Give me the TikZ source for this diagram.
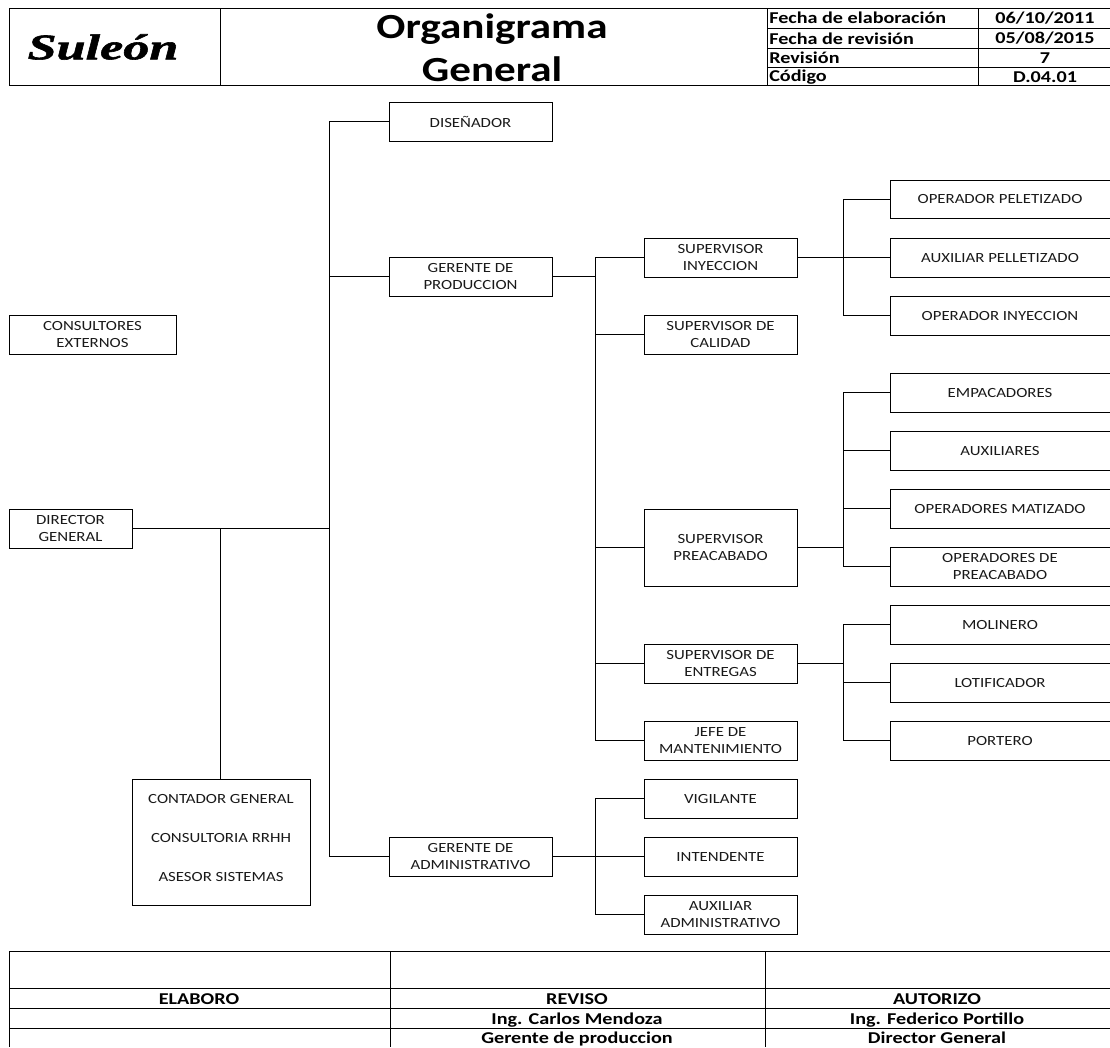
\documentclass[tikz,border=0pt]{standalone}
\usepackage{fontspec}
\setmainfont{Carlito}
\newfontfamily\boxfont[FakeStretch=1.2]{Carlito}
\newfontfamily\headfont[FakeStretch=1.22]{Carlito}
\newfontfamily\logofont[UprightFont=* Bold Italic,FakeBold=1.6,FakeStretch=1.45]{Liberation Serif}
\newcommand{\bx}[6]{%
  \pgfmathsetmacro\bw{(#4-#2)*0.75}\pgfmathsetmacro\bh{(#5-#3)*0.75}%
  \node[orgbox,minimum width=\bw pt,minimum height=\bh pt] (#1) at ({(#2+#4)/2},{(#3+#5)/2}) {#6};}
\newcommand{\obx}[4]{%
  \pgfmathsetmacro\bh{(#3-#2)*0.75}%
  \node[orgbox,draw=none,minimum width=165pt,minimum height=\bh pt] (#1) at (1000,{(#2+#3)/2}) {#4};
  \draw[conn] (#1.north east) -- (#1.north west) -- (#1.south west) -- (#1.south east);}
\newcommand{\lnk}[3]{\draw[conn] (#2.west) -| (#3 |- #1.east) -- (#1.east);}
\tikzset{
  conn/.style={line width=0.75pt,black},
  orgbox/.style={draw,line width=0.75pt,inner sep=0pt,outer sep=0pt,align=center,
    font=\boxfont\fontsize{10.5pt}{12.75pt}\selectfont,text=black!90},
  headl/.style={inner sep=0pt,anchor=west,font=\headfont\bfseries\fontsize{12.4pt}{13pt}\selectfont},
  headc/.style={inner sep=0pt,font=\headfont\bfseries\fontsize{12.4pt}{13pt}\selectfont},
  titletext/.style={inner sep=0pt,font=\headfont\bfseries\fontsize{26.5pt}{30pt}\selectfont},
  foot/.style={inner sep=0pt,anchor=base,font=\headfont\bfseries\fontsize{12.4pt}{13pt}\selectfont},
  plain/.style={inner sep=0pt,font=\boxfont\fontsize{10.5pt}{12pt}\selectfont,text=black!90},
}
\begin{document}
\begin{tikzpicture}[x=0.75pt,y=-0.75pt]
\useasboundingbox (0,0) rectangle (1110,1047);
% header
\draw[conn] (1110,8) -- (9,8) -- (9,85) -- (1110,85);
\draw[conn] (220,8) -- (220,85);
\draw[conn] (767,8) -- (767,85);
\draw[conn] (978,8) -- (978,85);
\draw[conn] (767,28) -- (1110,28);
\draw[conn] (767,48) -- (1110,48);
\draw[conn] (767,67) -- (1110,67);
\node[inner sep=0pt,font=\logofont\fontsize{27pt}{30pt}\selectfont] (logo) at (103,47) {Suleón};
\node[titletext] (t1) at (492,29) {Organigrama};
\node[titletext] (t2) at (492,69) {General};
\node[headl] (h1) at (769,18) {Fecha de elaboración};
\node[headl] (h2) at (769,39) {Fecha de revisión};
\node[headl] (h3) at (769,58) {Revisión};
\node[headl] (h4) at (769,77) {Código};
\node[headc] (v1) at (1045,18) {06/10/2011};
\node[headc] (v2) at (1045,38) {05/08/2015};
\node[headc] (v3) at (1045,58) {7};
\node[headc] (v4) at (1045,77) {D.04.01};
% left
\bx{cons}{9}{315}{176}{354}{CONSULTORES\\EXTERNOS}
\bx{dir}{9}{509}{132}{548}{DIRECTOR\\GENERAL}
\bx{grp}{132}{779}{310}{905}{}
\node[plain] (g1) at (221,799) {CONTADOR GENERAL};
\node[plain] (g2) at (221,838) {CONSULTORIA RRHH};
\node[plain] (g3) at (221,877) {ASESOR SISTEMAS};
% second level
\bx{dis}{389}{102}{552}{141}{DISEÑADOR}
\bx{gp}{389}{257}{552}{296}{GERENTE DE\\PRODUCCION}
\bx{ga}{389}{837}{552}{876}{GERENTE DE\\ADMINISTRATIVO}
% third level
\bx{si}{644}{238}{797}{277}{SUPERVISOR\\INYECCION}
\bx{sc}{644}{315}{797}{354}{SUPERVISOR DE\\CALIDAD}
\bx{sp}{644}{509}{797}{586}{SUPERVISOR\\PREACABADO}
\bx{se}{644}{644}{797}{683}{SUPERVISOR DE\\ENTREGAS}
\bx{jm}{644}{721}{797}{760}{JEFE DE\\MANTENIMIENTO}
\bx{vi}{644}{779}{797}{818}{VIGILANTE}
\bx{in}{644}{837}{797}{876}{INTENDENTE}
\bx{aa}{644}{895}{797}{934}{AUXILIAR\\ADMINISTRATIVO}
% fourth level
\obx{a1}{180}{218}{OPERADOR PELETIZADO}
\obx{a2}{238}{277}{AUXILIAR PELLETIZADO}
\obx{a3}{296}{335}{OPERADOR INYECCION}
\obx{b1}{373}{412}{EMPACADORES}
\obx{b2}{431}{470}{AUXILIARES}
\obx{b3}{489}{528}{OPERADORES MATIZADO}
\obx{b4}{547}{586}{OPERADORES DE\\PREACABADO}
\obx{c1}{605}{644}{MOLINERO}
\obx{c2}{663}{702}{LOTIFICADOR}
\obx{c3}{721}{760}{PORTERO}
% buses
\coordinate (bus1) at (329,0);
\coordinate (bus2) at (595,0);
\coordinate (bus3) at (843,0);
\coordinate (busg) at (220,0);
\lnk{dir}{dis}{bus1}
\lnk{dir}{gp}{bus1}
\lnk{dir}{ga}{bus1}
\draw[conn] (grp.north -| busg) -- (busg |- dir.east);
\lnk{gp}{si}{bus2}
\lnk{gp}{sc}{bus2}
\lnk{gp}{sp}{bus2}
\lnk{gp}{se}{bus2}
\lnk{gp}{jm}{bus2}
\lnk{ga}{vi}{bus2}
\lnk{ga}{in}{bus2}
\lnk{ga}{aa}{bus2}
\lnk{si}{a1}{bus3}
\lnk{si}{a2}{bus3}
\lnk{si}{a3}{bus3}
\lnk{sp}{b1}{bus3}
\lnk{sp}{b2}{bus3}
\lnk{sp}{b3}{bus3}
\lnk{sp}{b4}{bus3}
\lnk{se}{c1}{bus3}
\lnk{se}{c2}{bus3}
\lnk{se}{c3}{bus3}
% footer
\draw[conn] (1110,951) -- (9,951) -- (9,1047);
\draw[conn] (390,951) -- (390,1047);
\draw[conn] (765,951) -- (765,1047);
\draw[conn] (9,988) -- (1110,988);
\draw[conn] (9,1008) -- (1110,1008);
\draw[conn] (9,1028) -- (1110,1028);
\node[foot] (f1) at (199,1004) {ELABORO};
\node[foot] (f2) at (577,1004) {REVISO};
\node[foot] (f3) at (937,1004) {AUTORIZO};
\node[foot] (f4) at (577,1024) {Ing. Carlos Mendoza};
\node[foot] (f5) at (937,1024) {Ing. Federico Portillo};
\node[foot] (f6) at (577,1043) {Gerente de produccion};
\node[foot] (f7) at (937,1043) {Director General};
\end{tikzpicture}
\end{document}
